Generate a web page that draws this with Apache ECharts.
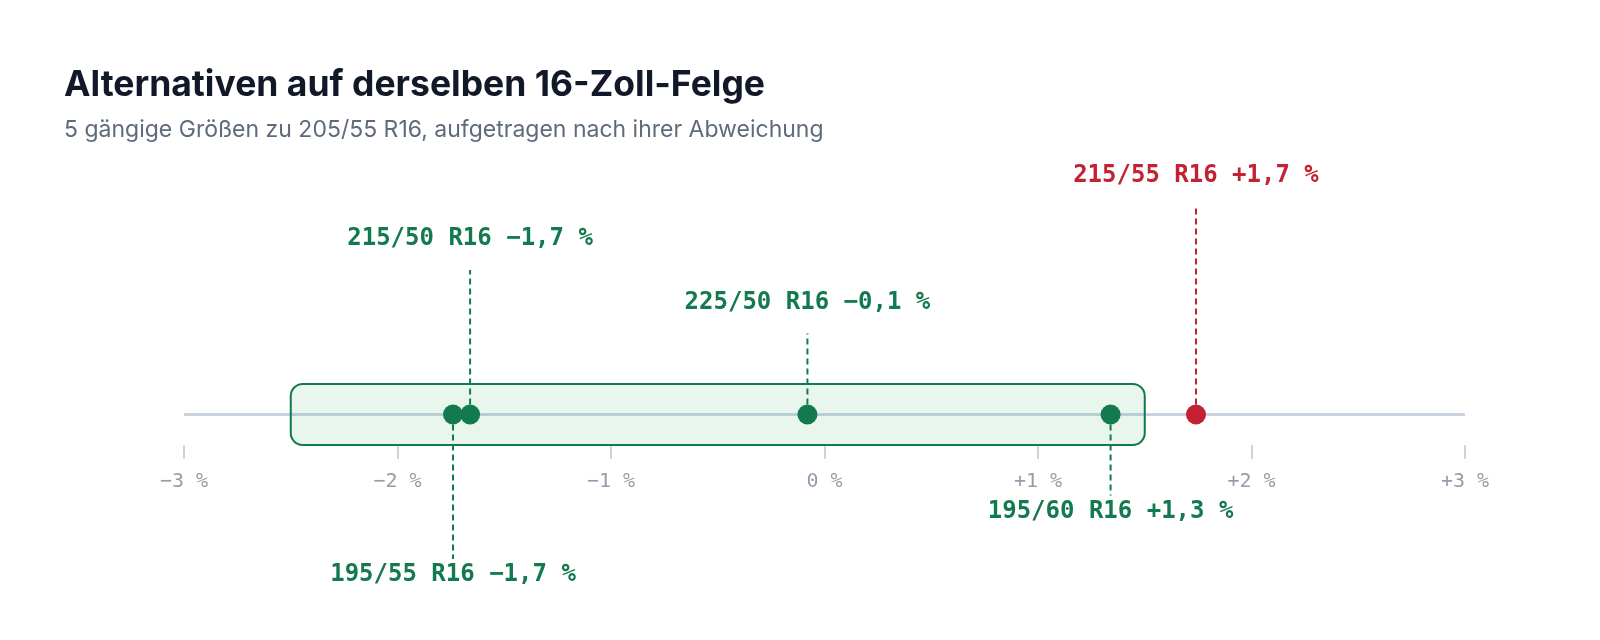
<!DOCTYPE html>
<html>
<head>
<meta charset="utf-8">
<title>Alternativen auf derselben 16-Zoll-Felge</title>
<script src="https://cdn.jsdelivr.net/npm/echarts@6/dist/echarts.min.js"></script>
<style>
  html, body { margin: 0; padding: 0; background: #ffffff; }
  #chart { width: 1600px; height: 640px; }
</style>
</head>
<body>
<div id="chart"></div>
<script>
// Tyre sizes and their rolling-circumference deviation from 205/55 R16 (in %)
var sizes = ['195/55 R16', '215/50 R16', '225/50 R16', '195/60 R16', '215/55 R16'];
var deviation = [-1.74, -1.66, -0.08, 1.34, 1.74];

// Allowed deviation band
var tolerance = [-2.5, 1.5];

// Axis range and tick step
var axisMin = -3;
var axisMax = 3;
var tickStep = 1;

// Label placement: 1 = above the axis, -1 = below; tier = leader length step
var labelSide = [-1, 1, 1, -1, 1];
var labelTier = [2, 2, 1, 1, 3];

var GREEN = '#13794f';
var RED = '#c22234';
var MONO = '"DejaVu Sans Mono", "Liberation Mono", monospace';

function fmtPercent(v, digits) {
  var s = Math.abs(v).toFixed(digits).replace('.', ',');
  if (Number(s.replace(',', '.')) === 0) return s + ' %';
  return (v < 0 ? '\u2212' : '+') + s + ' %';
}

function inBand(v) {
  return v >= tolerance[0] && v <= tolerance[1];
}

var chart = echarts.init(document.getElementById('chart'));

var option = {
  animation: false,
  backgroundColor: '#ffffff',
  title: [
    {
      text: 'Alternativen auf derselben 16-Zoll-Felge',
      left: 64,
      top: 67,
      padding: 0,
      textStyle: { fontFamily: 'Inter', fontWeight: 700, fontSize: 35.5, color: '#111827' }
    },
    {
      text: '5 gängige Größen zu 205/55 R16, aufgetragen nach ihrer Abweichung',
      left: 64,
      top: 119,
      padding: 0,
      textStyle: { fontFamily: 'Inter', fontWeight: 400, fontSize: 23, color: '#5f6b7d' }
    }
  ],
  grid: { left: 184, right: 135, top: 384, bottom: 195 },
  xAxis: {
    type: 'value',
    min: axisMin,
    max: axisMax,
    interval: tickStep,
    axisLine: { show: false, onZero: false },
    splitLine: { show: false },
    axisTick: { show: true, length: 14, lineStyle: { color: '#cbd3df', width: 2 } },
    axisLabel: {
      margin: 27,
      fontFamily: MONO,
      fontSize: 20,
      color: '#969cab',
      formatter: function (v) { return fmtPercent(v, 0); }
    }
  },
  yAxis: { type: 'value', min: -1, max: 1, show: false },
  series: [
    {
      // baseline
      type: 'line',
      data: [[axisMin, 0], [axisMax, 0]],
      symbol: 'none',
      silent: true,
      z: 1,
      lineStyle: { color: '#cbd3e0', width: 3 }
    },
    {
      // tolerance band
      type: 'custom',
      data: [[tolerance[0], tolerance[1]]],
      z: 2,
      silent: true,
      renderItem: function (params, api) {
        var a = api.coord([api.value(0), 1]);
        var b = api.coord([api.value(1), -1]);
        return {
          type: 'rect',
          shape: { x: a[0], y: a[1], width: b[0] - a[0], height: b[1] - a[1], r: 12 },
          style: { fill: 'rgba(34,170,90,0.1)', stroke: GREEN, lineWidth: 2 }
        };
      }
    },
    {
      // leader lines and labels
      type: 'custom',
      data: deviation.map(function (v, i) { return [v, i]; }),
      z: 3,
      silent: true,
      renderItem: function (params, api) {
        var i = api.value(1);
        var v = deviation[i];
        var p = api.coord([v, 0]);
        var side = labelSide[i];
        var len = 81 + (labelTier[i] - 1) * 63.5;
        var end = p[1] - side * len;
        var color = inBand(v) ? GREEN : RED;
        var textY = side > 0 ? end - 31 : end + 16;
        return {
          type: 'group',
          children: [
            {
              type: 'line',
              shape: { x1: p[0], y1: p[1], x2: p[0], y2: end },
              style: { stroke: color, lineWidth: 2, lineDash: [6, 4] }
            },
            {
              type: 'text',
              x: p[0],
              y: textY,
              style: {
                text: sizes[i] + ' ' + fmtPercent(v, 1),
                fill: color,
                font: 'bold 24px ' + MONO,
                align: 'center',
                verticalAlign: 'middle'
              }
            }
          ]
        };
      }
    },
    {
      // tyre size points
      type: 'scatter',
      symbolSize: 20,
      z: 4,
      data: deviation.map(function (v) {
        return { value: [v, 0], itemStyle: { color: inBand(v) ? GREEN : RED, opacity: 1 } };
      })
    }
  ]
};

chart.setOption(option);
</script>
</body>
</html>
